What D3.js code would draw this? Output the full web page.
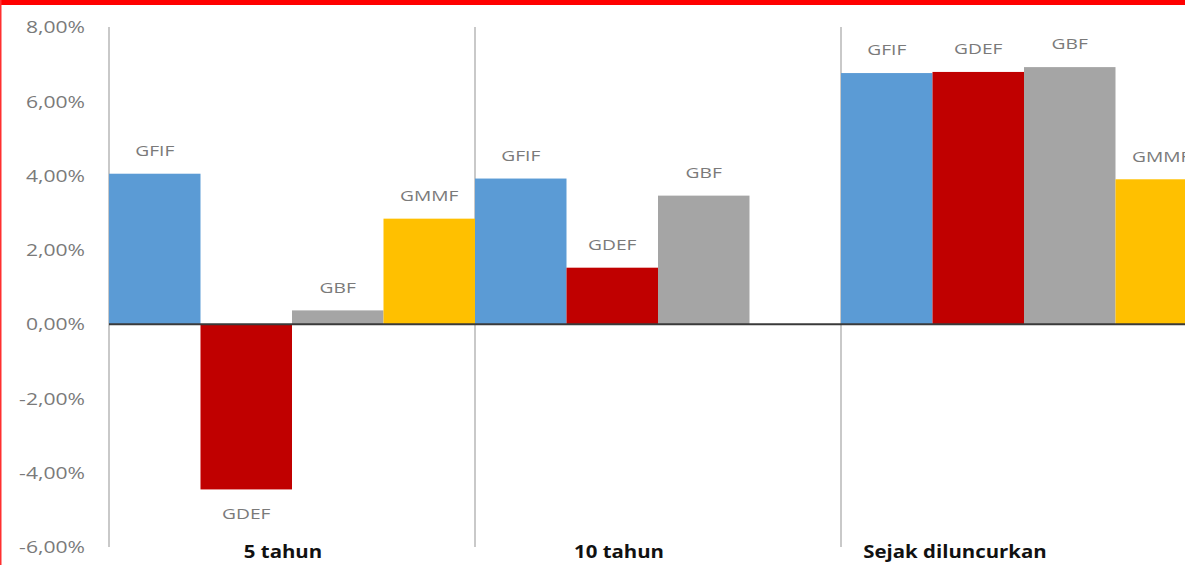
<!DOCTYPE html>
<html>
<head>
<meta charset="utf-8">
<script src="https://cdn.jsdelivr.net/npm/d3@7"></script>
<style>
  body { margin: 0; background: #fff; }
  svg { display: block; }
</style>
</head>
<body>
<svg id="chart" width="1185" height="565"></svg>
<script>
// ---- data ----
const categories = ["5 tahun", "10 tahun", "Sejak diluncurkan"];
const seriesNames = ["GFIF", "GDEF", "GBF", "GMMF"];
const seriesColors = ["#5b9bd5", "#c00000", "#a5a5a5", "#ffc000"];
const GFIF = [4.05, 3.92, 6.76];
const GDEF = [-4.45, 1.52, 6.79];
const GBF  = [0.37, 3.46, 6.92];
const GMMF = [2.84, null, 3.90];
const yTicks = [-6, -4, -2, 0, 2, 4, 6, 8];

const seriesValues = [GFIF, GDEF, GBF, GMMF];
const W = 1185, H = 565;
const svg = d3.select("#chart");
const stretch = 1.28;

// frame
svg.append("rect").attr("x", 0).attr("y", 0).attr("width", W).attr("height", 5).attr("fill", "#ff0000");
svg.append("rect").attr("x", 0).attr("y", 0).attr("width", 1.5).attr("height", H).attr("fill", "#ff3030");

const y = d3.scaleLinear().domain([-6, 8]).range([547, 27]);
const x0 = d3.scaleBand().domain(categories).range([109, 1207]).paddingInner(0).paddingOuter(0);
const x1 = d3.scaleBand().domain(seriesNames).range([0, x0.bandwidth()]).padding(0);
const xLabel = d3.scaleBand().domain(categories).range([115, 1123]);

// vertical separators
const seps = categories.map(c => x0(c));
svg.selectAll("line.sep").data(seps).enter().append("line")
  .attr("class", "sep")
  .attr("x1", d => d).attr("x2", d => d)
  .attr("y1", y(8)).attr("y2", y(-6))
  .attr("stroke", "#c9c9c9").attr("stroke-width", 2);

// y axis labels
const yAxis = d3.axisLeft(y).tickValues(yTicks).tickSize(0).tickPadding(0)
  .tickFormat(d => d3.format(".2f")(d).replace(".", ",").replace("\u2212", "-") + "%");
const yg = svg.append("g").attr("transform", "translate(85,0)").call(yAxis);
yg.select(".domain").remove();
yg.selectAll("text")
  .attr("x", 0).attr("dy", "0.35em")
  .attr("font-family", "'Open Sans', 'DejaVu Sans', sans-serif")
  .attr("font-size", 16.5).attr("fill", "#7a7a7a")
  .attr("text-anchor", "end")
  .attr("transform", `scale(${stretch},1)`);

// bars
const flat = [];
categories.forEach((c, ci) => {
  seriesNames.forEach((s, si) => {
    const v = seriesValues[si][ci];
    if (v !== null && v !== undefined) flat.push({ c, s, si, v });
  });
});

svg.selectAll("rect.bar").data(flat).enter().append("rect")
  .attr("class", "bar")
  .attr("x", d => x0(d.c) + x1(d.s))
  .attr("width", x1.bandwidth())
  .attr("y", d => y(Math.max(0, d.v)))
  .attr("height", d => Math.abs(y(d.v) - y(0)))
  .attr("fill", d => seriesColors[d.si]);

// zero line
svg.append("line")
  .attr("x1", 109).attr("x2", W)
  .attr("y1", y(0)).attr("y2", y(0))
  .attr("stroke", "#3a3a3a").attr("stroke-width", 2);

// bar labels
svg.selectAll("g.blab").data(flat).enter().append("g")
  .attr("class", "blab")
  .attr("transform", d => {
    const cx = x0(d.c) + x1(d.s) + x1.bandwidth() / 2;
    const cy = d.v >= 0 ? y(d.v) - 23 : y(d.v) + 24;
    return `translate(${cx},${cy}) scale(${stretch},1)`;
  })
  .append("text")
  .attr("text-anchor", "middle").attr("dy", "0.35em")
  .attr("font-family", "'Open Sans', 'DejaVu Sans', sans-serif")
  .attr("font-size", 15).attr("fill", "#7a7a7a")
  .text(d => d.s);

// category labels
svg.selectAll("g.clab").data(categories).enter().append("g")
  .attr("class", "clab")
  .attr("transform", d => `translate(${xLabel(d) + xLabel.bandwidth() / 2},552) scale(1.2,1)`)
  .append("text")
  .attr("text-anchor", "middle").attr("dy", "0.35em")
  .attr("font-family", "'Open Sans', 'DejaVu Sans', sans-serif")
  .attr("font-weight", "bold")
  .attr("font-size", 17).attr("fill", "#111")
  .text(d => d);
</script>
</body>
</html>
